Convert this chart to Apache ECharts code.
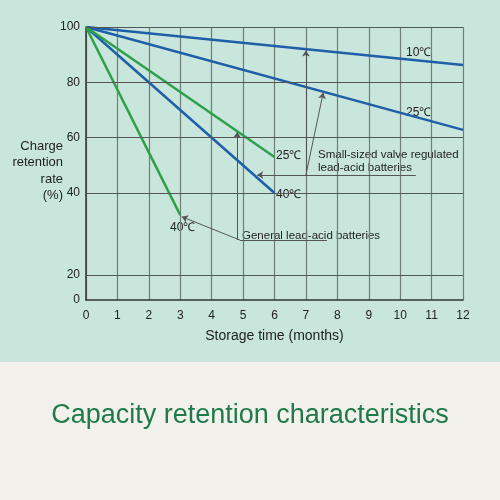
<!DOCTYPE html>
<html><head><meta charset="utf-8">
<script src="https://cdn.jsdelivr.net/npm/echarts@6/dist/echarts.min.js"></script>
<style>body{margin:0;background:#f3f1ec}#c{width:500px;height:500px}</style>
</head><body><div id="c"></div>
<script>
// months and retention (%)
const months = [0, 3, 6, 12];
const vrla10 = [[0, 100], [12, 86.3]];
const vrla25 = [[0, 100], [12, 62.8]];
const vrla40 = [[0, 100], [6, 40]];
const gen25 = [[0, 100], [6, 53]];
const gen40 = [[0, 100], [3, 34.6]];
const yTicks = [0, 20, 40, 60, 80, 100];
const xTicks = [0, 1, 2, 3, 4, 5, 6, 7, 8, 9, 10, 11, 12];

// broken y scale: 0-20 and 20-40 are squeezed
function pos(v) {
  if (v >= 40) return 39.2 + (v - 40) * 60.8 / 60;
  if (v >= 20) return 9.2 + (v - 20) * 1.5;
  return v * 0.46;
}
function inv(p) {
  if (p >= 39.1) return Math.round(40 + (p - 39.2) * 60 / 60.8);
  if (p >= 9.1) return Math.round(20 + (p - 9.2) / 1.5);
  return Math.round(p / 0.46);
}
const tr = arr => arr.map(d => [d[0], pos(d[1])]);

const blue = '#1f5fa8', green = '#2ea04c', grey = '#555';
const seg = (a, b, arrow) => [{coord: [a[0], pos(a[1])], symbol: 'none'}, {coord: [b[0], pos(b[1])], symbol: arrow ? 'arrow' : 'none'}];

const chart = echarts.init(document.getElementById('c'));
const lineS = (data, color) => ({type: 'line', data: tr(data), showSymbol: false, lineStyle: {color: color, width: 2.5}, silent: true});
const txt = (x, y, t, extra) => ({type: 'text', x: x, y: y, style: Object.assign({text: t, fill: '#222', font: '12px "Liberation Sans"'}, extra || {})});
chart.setOption({
  backgroundColor: '#f3f1ec',
  graphic: [
    {type: 'rect', shape: {x: 0, y: 0, width: 500, height: 362}, style: {fill: '#c9e6dc'}, z: -10},
    {type: 'text', left: 'center', top: 402, style: {text: 'Capacity retention characteristics', fill: '#1e7a48', font: '27px "Liberation Sans", Arial'}},
    txt(63, 138, 'Charge\nretention\nrate\n(%)', {font: '13px "Liberation Sans"', align: 'right', lineHeight: 16.5}),
    txt(406, 47, '10℃'), txt(406, 107, '25℃'), txt(276, 150, '25℃'),
    txt(276, 189, '40℃'), txt(170, 222, '40℃'),
    txt(318, 148, 'Small-sized valve regulated\nlead-acid batteries', {font: '11.5px "Liberation Sans"', lineHeight: 13}),
    txt(242, 230, 'General lead-acid batteries', {font: '11.5px "Liberation Sans"'})
  ],
  grid: {left: 86, right: 37, top: 27, bottom: 200},
  xAxis: {type: 'value', min: 0, max: 12, interval: 1,
    name: 'Storage time (months)', nameLocation: 'middle', nameGap: 29,
    nameTextStyle: {color: '#222', fontSize: 14, fontFamily: 'Liberation Sans'},
    axisLine: {lineStyle: {color: '#333', width: 1.5}}, axisTick: {show: false},
    axisLabel: {color: '#222', fontSize: 12, margin: 10},
    splitLine: {show: true, lineStyle: {color: '#6f7f78', width: 1.2}}},
  yAxis: {type: 'value', min: 0, max: 100,
    axisLine: {show: true, lineStyle: {color: '#333', width: 1.5}}, axisTick: {show: false},
    axisLabel: {customValues: yTicks.map(pos), formatter: v => inv(v), color: '#222', fontSize: 12, margin: 6},
    splitLine: {show: false}},
  series: [
    {type: 'line', data: [], silent: true,
      markLine: {silent: true, symbol: 'none', label: {show: false}, lineStyle: {color: '#555', width: 1.2, type: 'solid'},
        data: yTicks.slice(1).map(v => ({yAxis: pos(v)}))}},
    lineS(vrla10, blue), lineS(vrla25, blue), lineS(vrla40, blue),
    lineS(gen25, green), lineS(gen40, green),
    {type: 'line', data: [], silent: true,
      markLine: {silent: true, symbolSize: 6, label: {show: false}, lineStyle: {color: grey, width: 1, type: 'solid'},
        data: [
          seg([7.67, 28.5], [4.9, 28.5]), seg([4.9, 28.5], [3.05, 34.2], true),
          seg([4.81, 28.5], [4.81, 62], true),
          seg([10.5, 46.5], [5.45, 46.5], true),
          seg([7, 46.5], [7, 91.5], true), seg([7, 46.5], [7.55, 76.2], true)
        ]}}
  ]
});
</script></body></html>
